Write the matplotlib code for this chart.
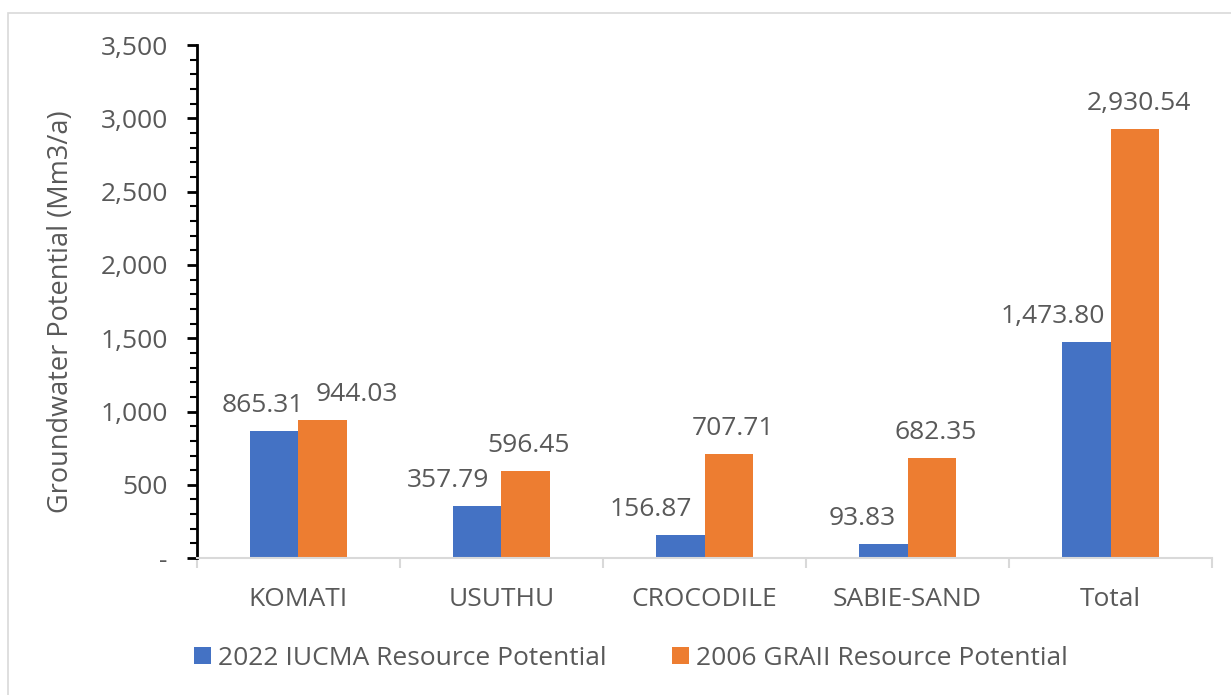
import numpy as np
import matplotlib.pyplot as plt
from matplotlib.patches import Rectangle
from matplotlib.ticker import MultipleLocator, FuncFormatter

# data
categories = ["KOMATI", "USUTHU", "CROCODILE", "SABIE-SAND", "Total"]
iucma_2022 = [865.31, 357.79, 156.87, 93.83, 1473.80]
graii_2006 = [944.03, 596.45, 707.71, 682.35, 2930.54]
series_names = ["2022 IUCMA Resource Potential", "2006 GRAII Resource Potential"]

# horizontal label nudges in pixels, to mimic the spreadsheet placement
blue_dx = [-11, -29, -29, -21, -33]
orange_dx = [34, 3, 4, 4, 4]
label_dy = 19

plt.rcParams['font.family'] = ['Open Sans', 'DejaVu Sans']
grey = '#595959'
blue = '#4472C4'
orange = '#ED7D31'
fs = 19

fig = plt.figure(figsize=(12.31, 6.95), dpi=100)
ax = fig.add_axes([0.160, 0.197, 0.8246, 0.738])

# outer chart frame (runs off the right and bottom edges)
fig.patches.append(Rectangle((0.0065, -0.02), 1.05, 1.0013, transform=fig.transFigure,
                             fill=False, edgecolor='#D9D9D9', linewidth=1.2))

x = np.arange(len(categories))
w = 0.24
b1 = ax.bar(x - w / 2, iucma_2022, w, color=blue, label=series_names[0])
b2 = ax.bar(x + w / 2, graii_2006, w, color=orange, label=series_names[1])

for bars, vals, dxs in [(b1, iucma_2022, blue_dx), (b2, graii_2006, orange_dx)]:
    for rect, v, dx in zip(bars, vals, dxs):
        ax.annotate(f"{v:,.2f}", (rect.get_x() + rect.get_width() / 2, v),
                    xytext=(dx, label_dy), textcoords='offset pixels',
                    ha='center', va='baseline', fontsize=fs, color=grey)

ax.set_xlim(-0.5, len(categories) - 0.5)
ax.set_ylim(0, 3500)
ax.yaxis.set_major_locator(MultipleLocator(500))
ax.yaxis.set_minor_locator(MultipleLocator(100))
ax.yaxis.set_major_formatter(FuncFormatter(lambda v, p: '-' if v == 0 else f"{v:,.0f}"))

ax.set_xticks(x)
ax.set_xticklabels(categories)
ax.set_xticks(np.arange(-0.5, len(categories)), minor=True)
ax.tick_params(axis='x', which='major', length=0, pad=21, labelsize=fs, labelcolor=grey)
ax.tick_params(axis='x', which='minor', length=7, color='#D9D9D9', width=1.5)
ax.tick_params(axis='y', which='major', length=7, width=2, color='black',
               labelsize=fs, labelcolor=grey, pad=14)
ax.tick_params(axis='y', which='minor', length=5, width=1.5, color='black')

for s in ['top', 'right']:
    ax.spines[s].set_visible(False)
ax.spines['left'].set_linewidth(2)
ax.spines['left'].set_color('black')
ax.spines['bottom'].set_color('#D9D9D9')
ax.spines['bottom'].set_linewidth(1.5)

ax.set_ylabel("Groundwater Potential (Mm3/a)", fontsize=19.5, color=grey, va='center')
ax.yaxis.set_label_coords(-0.134, 0.48)

fig.legend(loc='center', bbox_to_anchor=(0.5126, 0.0532), ncol=2, frameon=False,
           fontsize=fs, labelcolor=grey, handlelength=0.64, handleheight=0.64,
           columnspacing=2.46, handletextpad=0.27, borderpad=0, borderaxespad=0)

fig.savefig("out.png", dpi=100)
